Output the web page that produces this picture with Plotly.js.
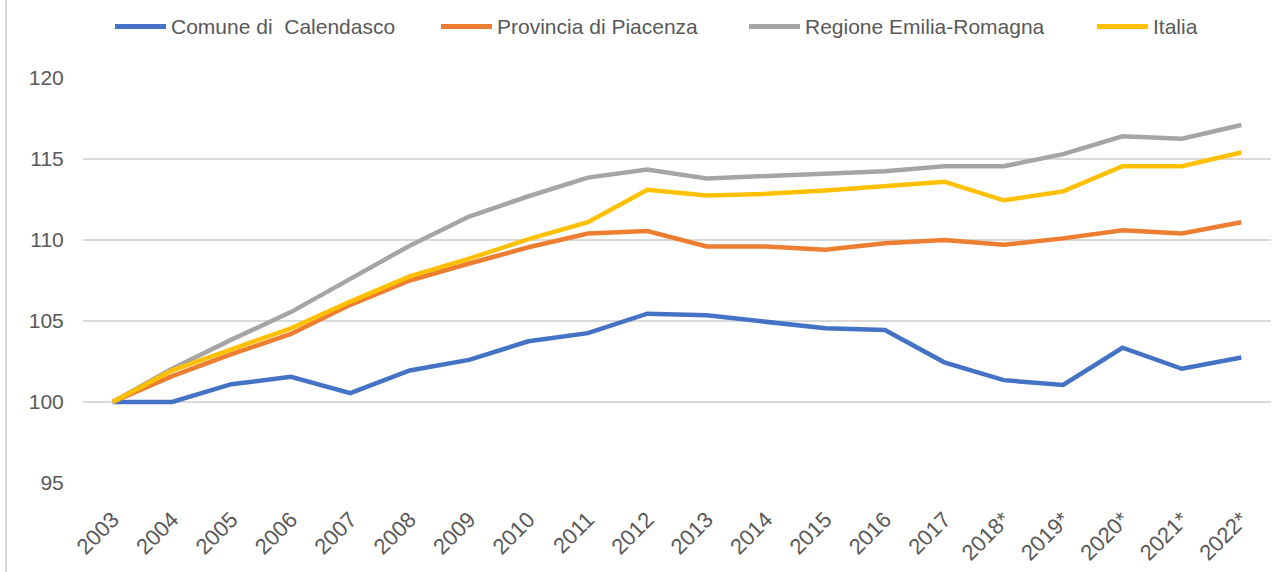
<!DOCTYPE html>
<html>
<head>
<meta charset="utf-8">
<script src="https://cdn.plot.ly/plotly-3.0.1.min.js"></script>
<style>html,body{margin:0;padding:0;background:#fff;}#chart{width:1277px;height:572px;}</style>
</head>
<body>
<div id="chart"></div>
<script>
const years = ["2003","2004","2005","2006","2007","2008","2009","2010","2011","2012","2013","2014","2015","2016","2017","2018*","2019*","2020*","2021*","2022*"];
const comune = [100,100,101.1,101.55,100.55,101.95,102.6,103.75,104.25,105.45,105.35,104.95,104.55,104.45,102.45,101.35,101.05,103.35,102.05,102.75];
const provincia = [100,101.6,102.95,104.2,106.0,107.5,108.55,109.55,110.4,110.55,109.6,109.6,109.4,109.8,110.0,109.7,110.1,110.6,110.4,111.1];
const regione = [100,102.05,103.85,105.55,107.6,109.65,111.45,112.7,113.85,114.35,113.8,113.95,114.05,114.25,114.55,114.55,115.3,116.4,116.25,117.1];
const italia = [100,101.95,103.25,104.55,106.2,107.75,108.85,110.05,111.1,113.1,112.75,112.85,113.05,113.35,113.6,112.45,113.0,114.55,114.55,115.4];
const names = ["Comune di  Calendasco","Provincia di Piacenza","Regione Emilia-Romagna","Italia"];
const colors = ["#4472C4","#ED7D31","#A5A5A5","#FFC000"];
const series = [comune, provincia, regione, italia];

// plot area geometry (pixels) used for the hand-drawn legend
const L = 83, R = 6, T = 78, B = 89, W = 1277, H = 572;
const pw = W - L - R, ph = H - T - B;
const px = v => (v - L) / pw;
const py = v => (H - B - v) / ph;

const traces = series.map((s,i)=>({
  type:'scatter', mode:'lines', x:years, y:s, name:names[i],
  line:{color:colors[i], width:4.5, shape:'linear'},
  hoverinfo:'x+y+name', showlegend:false
}));

const font = {family:'"Liberation Sans", Arial, sans-serif', size:21, color:'#595959'};
const xfont = {family:'"Liberation Sans", Arial, sans-serif', size:22, color:'#595959'};

// legend layout: sample start x for each entry
const legendStart = [113, 439, 747, 1095];
const legendY = 26.5;
const shapes = [{type:'line', xref:'paper', yref:'paper', x0:px(6), x1:px(6), y0:py(H+5), y1:py(-5),
           line:{color:'#D9D9D9', width:2}}];
const annotations = [];
names.forEach((n,i)=>{
  shapes.push({type:'line', xref:'paper', yref:'paper', x0:px(legendStart[i]+2), x1:px(legendStart[i]+53),
    y0:py(legendY), y1:py(legendY), line:{color:colors[i], width:5}, layer:'above'});
  annotations.push({xref:'paper', yref:'paper', x:px(legendStart[i]+57), y:py(legendY),
    xanchor:'left', yanchor:'middle', text:n, showarrow:false, font:font, borderpad:0});
});

const layout = {
  width:W, height:H,
  margin:{l:L, r:R, t:T, b:B, pad:0},
  paper_bgcolor:'#fff', plot_bgcolor:'#fff',
  font:font,
  showlegend:false,
  xaxis:{type:'category', range:[-0.5,19.5], tickangle:-45, showgrid:false, zeroline:false,
         showline:false, ticks:'outside', ticklen:14, tickcolor:'rgba(0,0,0,0)', tickfont:xfont, fixedrange:true},
  yaxis:{range:[95,120], dtick:5, tick0:95, showgrid:true, gridcolor:'#D9D9D9', gridwidth:1.5,
         zeroline:false, showline:false, ticks:'outside', ticklen:14, tickcolor:'rgba(0,0,0,0)', tickfont:font, fixedrange:true},
  shapes:shapes,
  annotations:annotations
};

Plotly.newPlot('chart', traces, layout, {displayModeBar:false, staticPlot:true});
</script>
</body>
</html>
